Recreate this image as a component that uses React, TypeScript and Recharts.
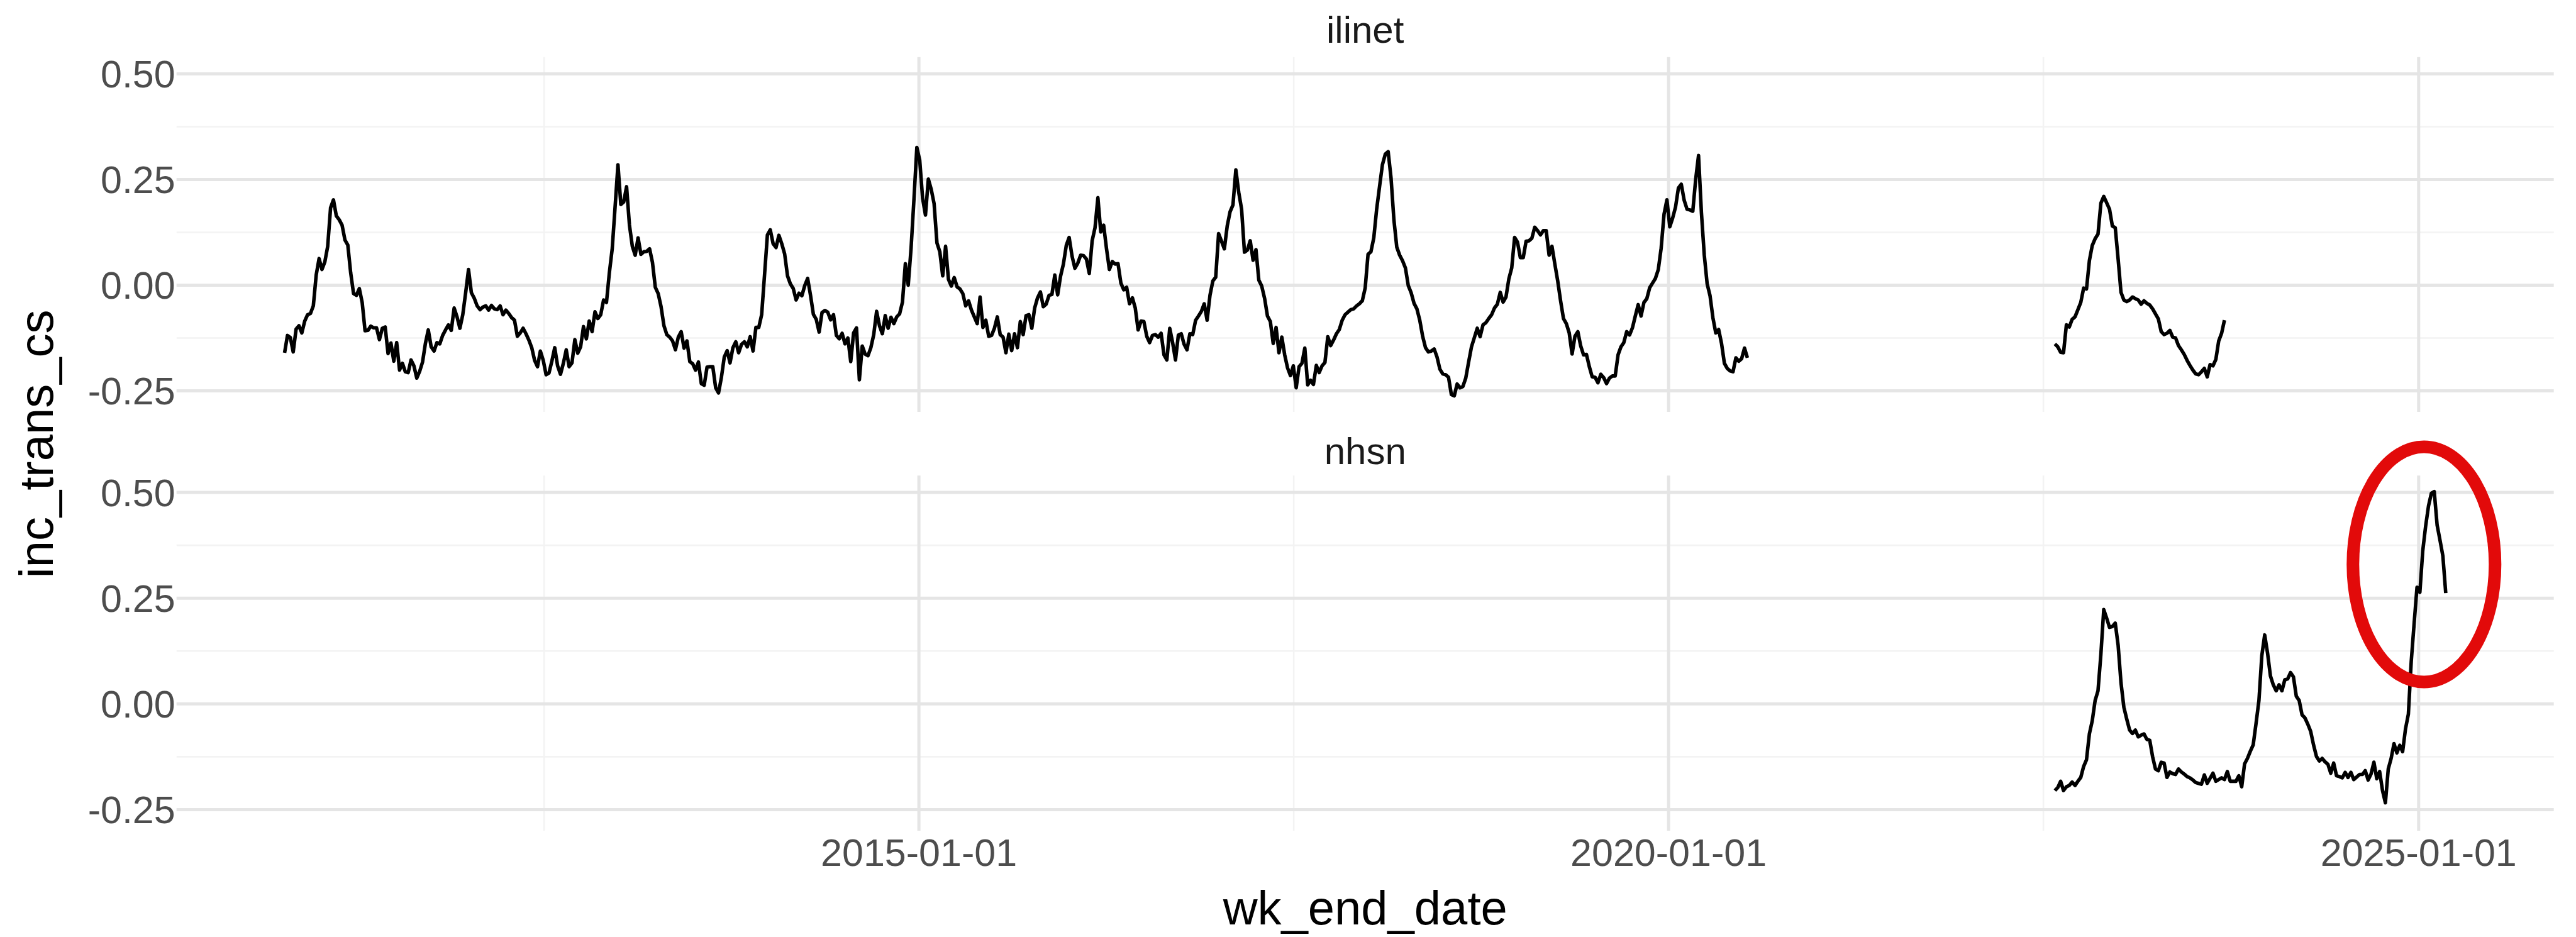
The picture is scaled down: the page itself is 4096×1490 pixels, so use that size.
import React from 'react';
import { LineChart, Line, XAxis, YAxis, CartesianGrid, ReferenceDot } from 'recharts';

// ---------------- data ----------------
const START_DATE = '2010-10-09'; // first wk_end_date of the ilinet series

const ILINET_A_FIRST_WEEK = 0;
const ilinetAValues = [
  -0.160, -0.119, -0.124, -0.158, -0.104, -0.096, -0.113, -0.085, -0.070, -0.067,
  -0.049, 0.024, 0.063, 0.037, 0.055, 0.092, 0.183, 0.202, 0.164, 0.155,
  0.142, 0.107, 0.095, 0.029, -0.020, -0.024, -0.008, -0.041, -0.108, -0.107,
  -0.097, -0.101, -0.101, -0.129, -0.102, -0.099, -0.162, -0.137, -0.180, -0.136,
  -0.201, -0.185, -0.205, -0.207, -0.177, -0.191, -0.220, -0.204, -0.182, -0.138,
  -0.106, -0.146, -0.156, -0.136, -0.139, -0.119, -0.106, -0.094, -0.107, -0.054,
  -0.075, -0.102, -0.070, -0.018, 0.037, -0.018, -0.031, -0.049, -0.058, -0.052,
  -0.049, -0.059, -0.048, -0.056, -0.058, -0.049, -0.070, -0.059, -0.067, -0.077,
  -0.083, -0.121, -0.113, -0.102, -0.115, -0.130, -0.148, -0.178, -0.193, -0.156,
  -0.178, -0.212, -0.208, -0.180, -0.148, -0.191, -0.211, -0.185, -0.153, -0.193,
  -0.184, -0.129, -0.161, -0.146, -0.098, -0.127, -0.085, -0.110, -0.063, -0.079,
  -0.070, -0.035, -0.041, 0.029, 0.086, 0.185, 0.285, 0.191, 0.197, 0.233,
  0.142, 0.092, 0.071, 0.112, 0.073, 0.079, 0.080, 0.086, 0.054, -0.005,
  -0.020, -0.051, -0.096, -0.117, -0.123, -0.132, -0.153, -0.123, -0.110, -0.149,
  -0.132, -0.181, -0.186, -0.201, -0.182, -0.233, -0.237, -0.194, -0.193, -0.193,
  -0.243, -0.255, -0.218, -0.170, -0.155, -0.184, -0.148, -0.134, -0.160, -0.140,
  -0.134, -0.146, -0.122, -0.156, -0.100, -0.100, -0.070, 0.024, 0.119, 0.131,
  0.098, 0.089, 0.118, 0.098, 0.074, 0.022, 0.003, -0.008, -0.035, -0.019,
  -0.025, -0.001, 0.016, -0.024, -0.069, -0.081, -0.111, -0.065, -0.060, -0.064,
  -0.082, -0.070, -0.119, -0.127, -0.114, -0.139, -0.125, -0.181, -0.113, -0.101,
  -0.224, -0.144, -0.163, -0.167, -0.148, -0.117, -0.062, -0.096, -0.115, -0.072,
  -0.102, -0.076, -0.091, -0.075, -0.068, -0.040, 0.051, 0.000, 0.088, 0.204,
  0.326, 0.296, 0.206, 0.166, 0.251, 0.227, 0.193, 0.100, 0.079, 0.022,
  0.092, 0.014, -0.002, 0.018, -0.004, -0.009, -0.020, -0.049, -0.037, -0.059,
  -0.075, -0.091, -0.028, -0.100, -0.083, -0.121, -0.119, -0.102, -0.075, -0.117,
  -0.123, -0.160, -0.116, -0.155, -0.115, -0.148, -0.086, -0.117, -0.072, -0.070,
  -0.102, -0.054, -0.030, -0.016, -0.051, -0.045, -0.024, -0.022, 0.024, -0.023,
  0.021, 0.050, 0.094, 0.113, 0.069, 0.040, 0.052, 0.071, 0.070, 0.062,
  0.028, 0.105, 0.136, 0.207, 0.126, 0.142, 0.086, 0.037, 0.056, 0.050,
  0.051, 0.005, -0.011, -0.005, -0.044, -0.030, -0.054, -0.106, -0.085, -0.086,
  -0.121, -0.136, -0.119, -0.117, -0.123, -0.114, -0.165, -0.177, -0.102, -0.136,
  -0.177, -0.118, -0.115, -0.140, -0.153, -0.115, -0.117, -0.083, -0.073, -0.062,
  -0.044, -0.083, -0.024, 0.010, 0.019, 0.122, 0.104, 0.086, 0.140, 0.174,
  0.190, 0.273, 0.220, 0.180, 0.078, 0.083, 0.105, 0.059, 0.084, 0.012,
  -0.002, -0.031, -0.073, -0.086, -0.138, -0.100, -0.160, -0.123, -0.165, -0.196,
  -0.214, -0.191, -0.243, -0.193, -0.185, -0.149, -0.236, -0.225, -0.235, -0.190,
  -0.207, -0.191, -0.183, -0.122, -0.143, -0.130, -0.115, -0.105, -0.083, -0.070,
  -0.064, -0.058, -0.056, -0.049, -0.044, -0.037, -0.007, 0.073, 0.079, 0.112,
  0.180, 0.233, 0.285, 0.310, 0.316, 0.254, 0.155, 0.090, 0.071, 0.058,
  0.041, -0.001, -0.018, -0.043, -0.056, -0.083, -0.121, -0.148, -0.158, -0.156,
  -0.151, -0.170, -0.199, -0.210, -0.212, -0.218, -0.259, -0.262, -0.234, -0.243,
  -0.240, -0.220, -0.182, -0.146, -0.124, -0.102, -0.122, -0.094, -0.089, -0.079,
  -0.070, -0.054, -0.045, -0.017, -0.040, -0.028, 0.015, 0.041, 0.113, 0.102,
  0.065, 0.065, 0.104, 0.105, 0.111, 0.137, 0.129, 0.119, 0.129, 0.129,
  0.071, 0.092, 0.050, 0.010, -0.037, -0.079, -0.091, -0.113, -0.163, -0.121,
  -0.110, -0.144, -0.165, -0.164, -0.193, -0.217, -0.218, -0.231, -0.211, -0.219,
  -0.233, -0.220, -0.215, -0.215, -0.165, -0.146, -0.136, -0.110, -0.118, -0.101,
  -0.073, -0.046, -0.073, -0.041, -0.032, -0.006, 0.005, 0.016, 0.037, 0.088,
  0.168, 0.202, 0.138, 0.159, 0.185, 0.230, 0.239, 0.201, 0.180, 0.178,
  0.175, 0.250, 0.307, 0.172, 0.071, 0.003, -0.025, -0.077, -0.113, -0.105,
  -0.138, -0.185, -0.197, -0.203, -0.205, -0.172, -0.180, -0.174, -0.149, -0.172,
];

const ILINET_B_FIRST_WEEK = 616;
const ilinetBValues = [
  -0.139, -0.146, -0.159, -0.160, -0.094, -0.099, -0.081, -0.075, -0.058, -0.041,
  -0.007, -0.009, 0.058, 0.094, 0.110, 0.121, 0.194, 0.210, 0.195, 0.180,
  0.140, 0.136, 0.062, -0.017, -0.035, -0.039, -0.035, -0.028, -0.032, -0.035,
  -0.045, -0.037, -0.043, -0.047, -0.056, -0.068, -0.080, -0.110, -0.117, -0.114,
  -0.107, -0.123, -0.125, -0.143, -0.153, -0.164, -0.178, -0.190, -0.201, -0.210,
  -0.212, -0.205, -0.197, -0.217, -0.188, -0.191, -0.176, -0.132, -0.114, -0.083,
];

const NHSN_FIRST_WEEK = 616;
const nhsnValues = [
  -0.205, -0.198, -0.183, -0.205, -0.196, -0.193, -0.185, -0.193, -0.183, -0.174,
  -0.148, -0.132, -0.071, -0.040, 0.008, 0.031, 0.117, 0.223, 0.203, 0.181,
  0.183, 0.191, 0.139, 0.050, -0.008, -0.036, -0.062, -0.070, -0.062, -0.078,
  -0.074, -0.071, -0.084, -0.086, -0.125, -0.154, -0.158, -0.138, -0.140, -0.174,
  -0.161, -0.165, -0.167, -0.154, -0.161, -0.166, -0.172, -0.175, -0.180, -0.186,
  -0.188, -0.190, -0.168, -0.188, -0.176, -0.164, -0.183, -0.179, -0.175, -0.179,
  -0.160, -0.183, -0.183, -0.183, -0.170, -0.196, -0.142, -0.129, -0.112, -0.097,
  -0.046, 0.008, 0.114, 0.163, 0.120, 0.066, 0.045, 0.031, 0.045, 0.031,
  0.057, 0.059, 0.074, 0.064, 0.018, 0.008, -0.026, -0.033, -0.048, -0.065,
  -0.097, -0.124, -0.135, -0.129, -0.137, -0.143, -0.164, -0.140, -0.170, -0.172,
  -0.175, -0.162, -0.174, -0.162, -0.179, -0.173, -0.167, -0.167, -0.158, -0.180,
  -0.166, -0.138, -0.177, -0.160, -0.205, -0.234, -0.154, -0.129, -0.094, -0.116,
  -0.098, -0.113, -0.059, -0.024, 0.101, 0.190, 0.276, 0.264, 0.362, 0.420,
  0.468, 0.498, 0.502, 0.423, 0.387, 0.350, 0.262,
];

const panelNames = ['ilinet', 'nhsn'];
const xTickDates = ['2015-01-01', '2020-01-01', '2025-01-01'];
const xMinorDates = ['2012-07-02', '2017-07-02', '2022-07-02'];
const yTicks = [-0.25, 0, 0.25, 0.5];
const yMinorTicks = [-0.125, 0.125, 0.375];
const yDomain: [number, number] = [-0.3, 0.54];
const highlightDate = '2025-01-14';
const highlightValue = 0.33;
const xTitle = 'wk_end_date';
const yTitle = 'inc_trans_cs';

// ---------------- helpers ----------------
const DAY = 86400000;
const toMs = (d: string) => Date.parse(d + 'T00:00:00Z');
const startMs = toMs(START_DATE);
const makeSeries = (firstWeek: number, values: number[]) =>
  values.map((v, i) => ({ x: startMs + (firstWeek + i) * 7 * DAY, y: v }));

const ilinetA = makeSeries(ILINET_A_FIRST_WEEK, ilinetAValues);
const ilinetB = makeSeries(ILINET_B_FIRST_WEEK, ilinetBValues);
const nhsn = makeSeries(NHSN_FIRST_WEEK, nhsnValues);

const allX = [...ilinetA, ...ilinetB, ...nhsn].map((d) => d.x);
const xMin = Math.min(...allX);
const xMax = Math.max(...allX);
const xPad = (xMax - xMin) * 0.05;
const xDomain: [number, number] = [xMin - xPad, xMax + xPad];
const xTicks = xTickDates.map(toMs);
const xMinor = xMinorDates.map(toMs);
const fmtDate = (ms: number) => new Date(ms).toISOString().slice(0, 10);
const fmtY = (v: number) => v.toFixed(2);

// ---------------- layout (px in the 4096x1490 window) ----------------
const W = 4096;
const H = 1490;
const PLOT_L = 280.7;
const PLOT_R = 4060.7;
const P1_TOP = 90.7;
const P1_BOT = 655.0;
const P2_TOP = 756.2;
const P2_BOT = 1321.0;
const FONT = "'Liberation Sans', Arial, Helvetica, sans-serif";
const TICK_SIZE = 61;
const TITLE_SIZE = 76;
const STRIP_SIZE = 60;
const LINE_W = 5.6;
const MAJOR = '#E5E5E5';
const MINOR = '#F3F3F3';

const C1_TOP = 0;
const C1_H = 700;
const C2_TOP = 660;
const C2_H = H - C2_TOP;

const tickStyle = { fill: '#4D4D4D', fontSize: TICK_SIZE, fontFamily: FONT };

function Panel({
  top,
  height,
  plotTop,
  plotBottom,
  showX,
  lines,
  highlight,
}: {
  top: number;
  height: number;
  plotTop: number;
  plotBottom: number;
  showX: boolean;
  lines: { x: number; y: number }[][];
  highlight?: boolean;
}) {
  const xAxisHeight = showX ? height - (plotBottom - top) : 0;
  return (
    <div style={{ position: 'absolute', left: 0, top, width: W, height }}>
      <LineChart
        width={W}
        height={height}
        margin={{
          top: plotTop - top,
          right: W - PLOT_R,
          bottom: showX ? 0 : height - (plotBottom - top),
          left: 0,
        }}
      >
        <CartesianGrid
          horizontalValues={yMinorTicks}
          verticalValues={xMinor}
          stroke={MINOR}
          strokeWidth={2.6}
        />
        <CartesianGrid
          horizontalValues={yTicks}
          verticalValues={xTicks}
          stroke={MAJOR}
          strokeWidth={5}
        />
        <XAxis
          type="number"
          dataKey="x"
          domain={xDomain}
          ticks={xTicks}
          tickFormatter={fmtDate}
          allowDataOverflow
          interval={0}
          hide={!showX}
          height={xAxisHeight}
          tickLine={false}
          axisLine={false}
          tickSize={0}
          tickMargin={13}
          tick={tickStyle}
        />
        <YAxis
          type="number"
          domain={yDomain}
          ticks={yTicks}
          tickFormatter={fmtY}
          allowDataOverflow
          interval={0}
          width={PLOT_L}
          tickLine={false}
          axisLine={false}
          tickSize={0}
          tickMargin={2}
          tick={tickStyle}
        />
        {lines.map((d, i) => (
          <Line
            key={i}
            data={d}
            dataKey="y"
            type="linear"
            stroke="#000000"
            strokeWidth={LINE_W}
            strokeLinejoin="round"
            dot={false}
            activeDot={false}
            isAnimationActive={false}
          />
        ))}
        {highlight ? (
          <ReferenceDot
            x={toMs(highlightDate)}
            y={highlightValue}
            ifOverflow="visible"
            shape={(p: any) => (
              <ellipse
                cx={p.cx}
                cy={p.cy}
                rx={113}
                ry={187}
                fill="none"
                stroke="#E20A0A"
                strokeWidth={20}
              />
            )}
          />
        ) : null}
      </LineChart>
    </div>
  );
}

export default function App() {
  const cx = (PLOT_L + PLOT_R) / 2;
  const yMid = (P1_TOP + P2_BOT) / 2;
  return (
    <div
      style={{
        position: 'absolute',
        left: 0,
        top: 0,
        width: W,
        height: H,
        background: '#ffffff',
        fontFamily: FONT,
        overflow: 'hidden',
      }}
    >
      <Panel
        top={C1_TOP}
        height={C1_H}
        plotTop={P1_TOP}
        plotBottom={P1_BOT}
        showX={false}
        lines={[ilinetA, ilinetB]}
      />
      <Panel
        top={C2_TOP}
        height={C2_H}
        plotTop={P2_TOP}
        plotBottom={P2_BOT}
        showX={true}
        lines={[nhsn]}
        highlight
      />
      <svg
        width={W}
        height={H}
        style={{ position: 'absolute', left: 0, top: 0, pointerEvents: 'none' }}
      >
        <text x={cx} y={68} textAnchor="middle" fontSize={STRIP_SIZE} fill="#1A1A1A" fontFamily={FONT}>
          {panelNames[0]}
        </text>
        <text x={cx} y={738} textAnchor="middle" fontSize={STRIP_SIZE} fill="#1A1A1A" fontFamily={FONT}>
          {panelNames[1]}
        </text>
        <text x={cx} y={1470} textAnchor="middle" fontSize={TITLE_SIZE} fill="#000000" fontFamily={FONT}>
          {xTitle}
        </text>
        <text
          x={84}
          y={yMid}
          transform={`rotate(-90 84 ${yMid})`}
          textAnchor="middle"
          fontSize={TITLE_SIZE}
          fill="#000000"
          fontFamily={FONT}
        >
          {yTitle}
        </text>
      </svg>
    </div>
  );
}
